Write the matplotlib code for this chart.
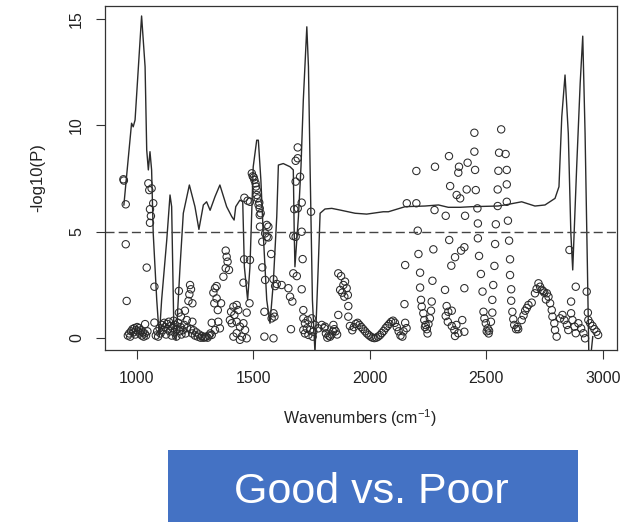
import matplotlib
matplotlib.use("Agg")
import matplotlib.pyplot as plt
from matplotlib.patches import Rectangle

plt.rcParams['font.family'] = ['Liberation Sans', 'DejaVu Sans']
plt.rcParams['mathtext.default'] = 'regular'

# -log10(P) curve (smoothed)
line_x = [945, 978, 985, 993, 1021, 1036, 1043, 1050, 1057, 1064, 1071, 1086, 1097,
          1107, 1129, 1143, 1150, 1160, 1169, 1186, 1200, 1226, 1250, 1267, 1286,
          1300, 1315, 1336, 1357, 1386, 1408, 1418, 1425, 1443, 1455, 1462, 1476,
          1486, 1500, 1515, 1522, 1533, 1543, 1558, 1572, 1586, 1601, 1608, 1629,
          1658, 1672, 1676, 1679, 1694, 1705, 1715, 1730, 1737, 1744, 1754, 1765,
          1779, 1787, 1808, 1837, 1873, 1937, 1987, 2058, 2080, 2152, 2237, 2295,
          2337, 2388, 2438, 2550, 2580, 2652, 2709, 2752, 2795, 2812, 2824, 2838,
          2852, 2863, 2871, 2888, 2903, 2914, 2924, 2934, 2940, 2950, 2957]
line_y = [6.25, 10.1, 9.93, 10.25, 15.15, 12.76, 8.84, 7.9, 8.76, 7.9, 4.9, 1.78, 0.05,
          1.78, 4.6, 6.72, 6.17, 0.05, -0.1, 3.34, 5.86, 7.19, 6.17, 5.1, 6.25,
          6.4, 6.0, 6.64, 7.19, 6.17, 5.7, 5.54, 6.17, 6.48, 6.4, 3.34, 1.78,
          3.34, 8.05, 9.3, 9.3, 7.4, 4.9, 1.78, 0.68, 2.56, 5.7, 8.13, 8.2,
          8.05, 7.9, 4.93, 3.34, 5.7, 8.05, 11.2, 14.64, 12.76, 8.05, 1.78, -0.7,
          3.34, 5.86, 6.06, 6.09, 6.01, 5.86, 5.82, 5.93, 5.93, 6.17, 6.2, 6.25,
          6.14, 6.14, 6.17, 6.2, 6.25, 6.4, 6.2, 6.25, 6.56, 7.11, 10.4, 12.37,
          9.62, 4.91, 3.19, 8.05, 11.98, 14.2, 9.62, 3.34, -0.7, -0.7, 0.05]

# individual -log10(P) values (open circles)
pt_x = [
    # 940-1080
    943, 945, 953, 953, 957, 1043, 1050, 1054, 1064, 1071, 1057, 1061, 1057, 1076, 1036, 1076,
    962, 968, 972, 976, 982, 986, 990, 994, 998, 1002, 1006, 1010, 1014, 1018, 1022, 1026,
    1030, 1034, 1040, 1046,
    # 1080-1240
    1082, 1088, 1092, 1098, 1102, 1108, 1112, 1118, 1122, 1126, 1130, 1134, 1138, 1142, 1146,
    1150, 1154, 1158, 1162, 1166, 1170, 1174, 1178, 1184, 1188, 1192, 1198, 1204, 1210, 1216,
    1181, 1229, 1233, 1226, 1222, 1239, 1181, 1190, 1207, 1215, 1239,
    # 1230-1480
    1232, 1238, 1244, 1250, 1256, 1262, 1268, 1274, 1280, 1286, 1292, 1298, 1304, 1310, 1316,
    1382, 1386, 1390, 1382, 1396, 1372, 1343, 1336, 1329, 1343, 1333, 1362, 1348,
    1322, 1350, 1357, 1336, 1322,
    1405, 1415, 1429, 1436, 1419, 1400, 1408, 1429, 1443, 1458, 1465, 1429, 1451, 1415, 1472,
    1443, 1472, 1462, 1476, 1486, 1458, 1461, 1486, 1484,
    # 1490-1700
    1494, 1498, 1502, 1505, 1510, 1512, 1515, 1515, 1519, 1526, 1523, 1528, 1532, 1528,
    1529, 1558, 1565, 1558, 1565, 1539, 1551, 1577, 1539, 1551, 1587, 1601, 1594, 1622,
    1548, 1587, 1591, 1579, 1548, 1587, 1662,
    1651, 1658, 1668, 1708, 1672, 1687, 1672, 1682, 1708, 1676, 1691, 1708, 1748, 1682, 1701,
    1682, 1691, 1691, 1712, 1715,
    # 1710-1870
    1715, 1722, 1734, 1751, 1730, 1744, 1758, 1737, 1755, 1722, 1715, 1765, 1779, 1794, 1808,
    1805, 1812, 1818, 1824, 1830, 1836, 1842, 1848, 1854, 1860,
    1865, 1877, 1894, 1887, 1873, 1882, 1901, 1906, 1891, 1908, 1865, 1908, 1915, 1844,
    # 1920-2160
    1925, 1932, 1940, 1948, 1956, 1964, 1972, 1980, 1988, 1996, 2004, 2012, 2020, 2028,
    2036, 2044, 2052, 2060, 2068, 2076, 2084, 2092, 2100, 2108, 2116, 2124, 2132, 2140,
    2145, 2152, 2158, 2152, 2149,
    # 2150-2480
    2159, 2200, 2200, 2206, 2209, 2216, 2216,
    2280, 2278, 2273, 2269,
    2340, 2345, 2326, 2341, 2350, 2323,
    2383, 2420, 2380, 2452, 2416, 2455, 2373, 2388, 2409, 2406, 2392, 2366, 2406,
    2449, 2449, 2462, 2464, 2464, 2469, 2477, 2484,
    2220, 2223, 2230, 2234, 2240, 2245, 2252, 2258, 2263, 2266, 2237, 2248,
    2330, 2337, 2352, 2326, 2335, 2352, 2363, 2366, 2397, 2406, 2380, 2372,
    2488, 2492, 2498, 2506, 2512, 2520, 2526, 2502, 2510,
    # 2520-2640
    2564, 2555, 2552, 2549, 2549, 2541, 2538, 2535, 2530, 2526,
    2583, 2588, 2588, 2588, 2593, 2598, 2602, 2602, 2607, 2607, 2612, 2616,
    2620, 2628, 2634,
    # 2640-2810
    2637, 2652, 2667, 2681, 2695, 2709, 2724, 2731, 2738, 2749, 2760, 2767, 2774, 2781,
    2784, 2792, 2795, 2802, 2660, 2674, 2716, 2744, 2756,
    # 2810-2990
    2817, 2827, 2835, 2846, 2852, 2864, 2870, 2879, 2884, 2895, 2907, 2917, 2924, 2938,
    2946, 2956, 2964, 2973, 2980, 2857, 2884, 2931, 2864, 2936,
]
pt_y = [
    7.46, 7.40, 6.28, 4.4, 1.73, 3.3, 7.27, 6.95, 7.03, 6.33, 6.05, 5.73, 5.41, 2.4, 0.64, 0.71,
    0.1, 0.2, 0.05, 0.3, 0.4, 0.25, 0.45, 0.15, 0.35, 0.5, 0.3, 0.45, 0.2, 0.35, 0.1, 0.25,
    0.05, 0.2, 0.1, 0.3,
    0.1, 0.3, 0.05, 0.45, 0.2, 0.6, 0.35, 0.7, 0.5, 0.15, 0.65, 0.4, 0.75, 0.3, 0.55,
    0.1, 0.45, 0.8, 0.25, 0.6, 0.05, 0.4, 0.7, 0.3, 0.5, 0.15, 0.35, 0.6, 0.2, 0.45,
    2.2, 2.48, 2.28, 2.04, 1.73, 1.62, 1.18, 0.99, 1.27, 0.83, 0.75,
    0.4, 0.2, 0.35, 0.1, 0.25, 0.05, 0.15, 0.0, 0.08, 0.0, 0.02, 0.05, 0.0, 0.1, 0.2,
    4.1, 3.81, 3.58, 3.27, 3.19, 2.87, 2.43, 2.33, 2.12, 1.85, 1.62, 1.62, 1.3,
    0.7, 0.75, 0.44, 0.36, 0.13,
    1.22, 1.46, 1.54, 1.3, 1.07, 0.83, 0.68, 0.75, 0.52, 0.68, 0.36, 0.21, 0.05, 0.05, -0.03,
    -0.1, 1.18, 6.59, 6.45, 6.4, 2.59, 3.69, 3.66, 1.62,
    7.74, 7.6, 7.55, 7.43, 7.27, 7.12, 6.96, 6.72, 6.56, 6.36, 6.25, 6.09, 5.86, 5.78,
    5.23, 5.31, 5.23, 4.75, 4.72, 4.52, 4.91, 3.94, 3.31, 2.72, 2.75, 2.53, 2.43, 2.48,
    1.22, 1.15, 0.99, 0.91, 0.05, -0.03, 0.4,
    2.33, 1.93, 1.7, 2.28, 3.03, 2.9, 4.79, 4.75, 4.99, 6.05, 6.09, 6.36, 5.93, 7.35, 7.58,
    8.33, 8.45, 8.96, 3.7, 1.3,
    0.91, 0.68, 0.83, 0.91, 0.44, 0.36, 0.28, 0.13, 0.05, 0.2, 0.36, 0.6, 0.44, 0.6, 0.52,
    0.45, 0.2, 0.0, 0.1, 0.05, 0.15, 0.3, 0.4, 0.3, 0.15,
    3.03, 2.9, 2.64, 2.48, 2.25, 2.12, 2.33, 2.01, 1.93, 1.49, 1.07, 0.99, 0.55, 0.6,
    0.35, 0.5, 0.65, 0.7, 0.6, 0.5, 0.4, 0.3, 0.2, 0.12, 0.05, 0.0, -0.02, 0.0,
    0.05, 0.12, 0.22, 0.32, 0.45, 0.55, 0.65, 0.75, 0.8, 0.7, 0.5, 0.3, 0.1, 0.05,
    0.3, 0.7, 0.45, 3.42, 1.58,
    6.33, 6.33, 7.85, 5.04, 3.94, 3.06, 2.36,
    8.05, 6.01, 4.16, 2.68,
    8.55, 7.14, 5.74, 4.6, 3.39, 2.25,
    8.05, 8.24, 7.77, 7.9, 6.98, 6.95, 6.72, 6.56, 5.74, 4.26, 4.1, 3.79, 2.33,
    9.65, 8.76, 6.09, 5.38, 4.68, 3.85, 3.0, 2.17,
    1.78, 1.46, 1.15, 0.83, 0.6, 0.4, 0.64, 0.91, 1.27, 1.7, 0.5, 0.2,
    1.49, 1.22, 1.27, 1.02, 0.75, 0.55, 0.36, 0.08, 0.83, 0.28, 0.21, 0.6,
    1.22, 0.91, 0.68, 0.44, 0.33, 0.75, 1.18, 0.3, 0.2,
    9.81, 8.71, 7.86, 6.98, 6.2, 5.34, 4.41, 3.38, 2.48, 1.78,
    8.65, 7.9, 7.22, 6.4, 5.51, 4.57, 3.69, 2.95, 2.28, 1.74, 1.22, 0.87,
    0.6, 0.4, 0.5,
    0.4, 0.83, 1.27, 1.54, 1.65, 2.09, 2.56, 2.4, 2.25, 2.12, 2.09, 1.93, 1.62, 1.3,
    0.99, 0.68, 0.36, 0.05, 1.05, 1.4, 2.3, 2.2, 1.8,
    0.91, 1.07, 0.83, 0.6, 0.36, 1.15, 0.83, 0.52, 0.21, 0.68, 0.44, 0.21, -0.03, 0.83,
    0.68, 0.55, 0.4, 0.28, 0.13, 4.13, 2.4, 2.17, 1.7, 1.18,
]

x_ticks = [1000, 1500, 2000, 2500, 3000]
y_ticks = [0, 5, 10, 15]
threshold = 5

fig = plt.figure(figsize=(6.3, 5.25), dpi=100)
ax = fig.add_axes([105 / 630, 175 / 525, 512 / 630, 344 / 525])

ax.plot(line_x, line_y, color='#2b2b2b', lw=1.0)
ax.scatter(pt_x, pt_y, s=28, facecolors='none', edgecolors='#2a2a2a', linewidths=0.75)
ax.axhline(threshold, color='#444444', lw=1.0, dashes=(6.5, 3))

ax.set_xlim(864, 3061)
ax.set_ylim(-0.58, 15.62)
ax.set_xticks(x_ticks)
ax.set_yticks(y_ticks)
ax.tick_params(length=6.5, width=0.8, color='#333333', labelsize=11.5, pad=8.5, labelcolor='#222222')
ax.tick_params(axis='y', labelrotation=90)
for lab in ax.get_yticklabels():
    lab.set_va('center')
for sp in ax.spines.values():
    sp.set_color('#333333')
    sp.set_linewidth(0.9)

fig.text(38 / 630, 1 - 178 / 525, '-log10(P)', rotation=90, ha='center', va='center',
         fontsize=12, color='#222222')
fig.text(360 / 630, 1 - 418 / 525, 'Wavenumbers (cm$^{-1}$)', ha='center', va='center',
         fontsize=11.5, color='#222222')

# blue title box
fig.patches.append(Rectangle((168 / 630, 3 / 525), 410 / 630, 72 / 525, transform=fig.transFigure,
                             facecolor='#4472C4', edgecolor='none'))
fig.text(371 / 630, 1 - 502.7 / 525, 'Good vs. Poor', ha='center', va='baseline',
         fontsize=31, color='white')

fig.savefig('out.png', dpi=100)
